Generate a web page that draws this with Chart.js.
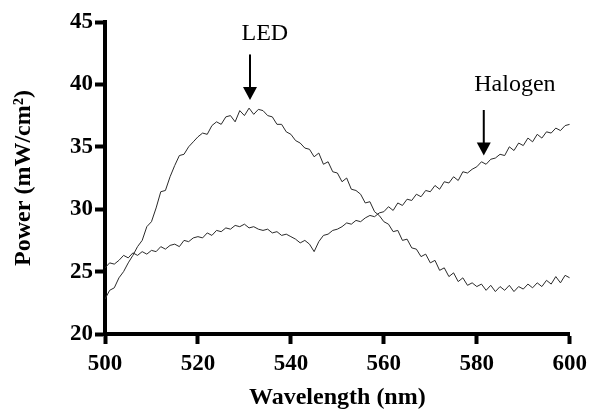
<!DOCTYPE html>
<html>
<head>
<meta charset="utf-8">
<script src="https://cdn.jsdelivr.net/npm/chart.js@4.4.1/dist/chart.umd.min.js"></script>
<style>
  html, body { margin: 0; padding: 0; background: #fff; }
  #wrap { width: 593px; height: 412px; }
</style>
</head>
<body>
<div id="wrap"><canvas id="spectrum"></canvas></div>
<script>
// ── Data ──────────────────────────────────────────────────────────────────
const wavelength = [
  500, 501, 502, 503, 504, 505, 506, 507, 508, 509,
  510, 511, 512, 513, 514, 515, 516, 517, 518, 519,
  520, 521, 522, 523, 524, 525, 526, 527, 528, 529,
  530, 531, 532, 533, 534, 535, 536, 537, 538, 539,
  540, 541, 542, 543, 544, 545, 546, 547, 548, 549,
  550, 551, 552, 553, 554, 555, 556, 557, 558, 559,
  560, 561, 562, 563, 564, 565, 566, 567, 568, 569,
  570, 571, 572, 573, 574, 575, 576, 577, 578, 579,
  580, 581, 582, 583, 584, 585, 586, 587, 588, 589,
  590, 591, 592, 593, 594, 595, 596, 597, 598, 599,
  600
];

const ledPower = [
  22.8, 23.5, 23.7, 24.5, 25.0, 25.7, 26.3, 27.0, 27.5, 28.6,
  29.0, 30.1, 31.4, 31.5, 32.6, 33.5, 34.3, 34.4, 35.0, 35.4,
  35.8, 36.1, 36.0, 36.7, 37.0, 36.8, 37.4, 37.5, 37.0, 37.9,
  37.5, 38.1, 37.6, 38.0, 37.9, 37.5, 37.4, 36.8, 36.8, 36.2,
  36.0, 35.5, 35.3, 34.9, 34.8, 34.2, 34.5, 33.6, 33.8, 33.0,
  32.9, 32.2, 32.5, 31.6, 31.5, 31.2, 30.5, 30.6, 29.8, 29.5,
  29.0, 28.8, 28.2, 28.3, 27.5, 27.6, 26.9, 26.8, 26.2, 26.4,
  25.7, 25.9, 25.1, 25.3, 24.6, 24.9, 24.2, 24.5, 23.9, 24.1,
  23.8, 24.0, 23.5, 23.9, 23.4, 23.8, 23.5, 23.9, 23.4, 23.8,
  23.6, 24.0, 23.7, 24.1, 23.8, 24.3, 24.0, 24.6, 24.1, 24.7,
  24.5
];

const halogenPower = [
  25.3, 25.7, 25.6, 25.9, 26.3, 26.1, 26.5, 26.3, 26.6, 26.4,
  26.7, 26.6, 27.0, 26.8, 27.1, 27.2, 27.0, 27.5, 27.4, 27.7,
  27.8, 27.7, 28.1, 27.9, 28.3, 28.2, 28.5, 28.4, 28.7, 28.6,
  28.8, 28.5, 28.6, 28.4, 28.3, 28.4, 28.1, 28.2, 27.9, 28.0,
  27.8, 27.6, 27.3, 27.5, 27.2, 26.6, 27.4, 27.9, 28.0, 28.3,
  28.4, 28.6, 28.9, 28.8, 29.1, 29.0, 29.3, 29.5, 29.4, 29.7,
  29.8, 30.2, 29.9, 30.5, 30.3, 30.8, 30.7, 31.2, 31.0, 31.5,
  31.4, 31.9, 31.6, 32.2, 32.1, 32.6, 32.3, 33.0, 32.9, 33.2,
  33.4, 33.8, 33.6, 34.0, 34.1, 34.4, 34.3, 35.0, 34.7, 35.3,
  35.1, 35.7, 35.4, 36.0, 35.7, 36.2, 36.1, 36.5, 36.3, 36.7,
  36.8
];

const xTicks = [500, 520, 540, 560, 580, 600];
const yTicks = [20, 25, 30, 35, 40, 45];

// ── Arrow labels ─────────────────────────────────────────────────────────
const arrowLabels = {
  id: 'arrowLabels',
  afterDatasetsDraw(chart) {
    const { ctx, scales: { x, y } } = chart;
    const notes = [
      { text: 'LED',     tx: 534.4, ty: 44.1, ax: 531.2, from: 42.4,  to: 38.75 },
      { text: 'Halogen', tx: 588.2, ty: 40.0, ax: 581.5, from: 37.95, to: 34.3 },
    ];
    ctx.save();
    ctx.fillStyle = '#000';
    ctx.strokeStyle = '#000';
    ctx.font = '24px "Liberation Serif", serif';
    ctx.textAlign = 'center';
    ctx.textBaseline = 'middle';
    notes.forEach(n => {
      ctx.fillText(n.text, x.getPixelForValue(n.tx), y.getPixelForValue(n.ty));
      const px = x.getPixelForValue(n.ax);
      const top = y.getPixelForValue(n.from);
      const tip = y.getPixelForValue(n.to);
      ctx.lineWidth = 2;
      ctx.beginPath();
      ctx.moveTo(px, top);
      ctx.lineTo(px, tip - 10);
      ctx.stroke();
      ctx.beginPath();
      ctx.moveTo(px - 7, tip - 13);
      ctx.lineTo(px + 7, tip - 13);
      ctx.lineTo(px, tip);
      ctx.closePath();
      ctx.fill();
    });
    ctx.restore();
  },
};

const TICK_FONT  = { family: '"Liberation Serif", "Times New Roman", serif', weight: 'bold', size: 23 };
const TITLE_FONT = { family: '"Liberation Serif", "Times New Roman", serif', weight: 'bold', size: 24 };

new Chart(document.getElementById('spectrum'), {
  type: 'line',
  data: {
    datasets: [
      {
        label: 'LED',
        data: wavelength.map((w, i) => ({ x: w, y: ledPower[i] })),
        borderColor: '#2a2a2a',
        borderWidth: 1,
        pointRadius: 0,
        tension: 0,
      },
      {
        label: 'Halogen',
        data: wavelength.map((w, i) => ({ x: w, y: halogenPower[i] })),
        borderColor: '#2a2a2a',
        borderWidth: 1,
        pointRadius: 0,
        tension: 0,
      },
    ],
  },
  options: {
    responsive: true,
    maintainAspectRatio: false,
    animation: false,
    layout: { padding: { top: 22, right: 23, left: 0, bottom: 0 } },
    plugins: { legend: { display: false }, tooltip: { enabled: false } },
    scales: {
      x: {
        type: 'linear',
        min: 500,
        max: 600,
        afterBuildTicks: s => { s.ticks = xTicks.map(v => ({ value: v })); },
        afterFit: s => { s.height = 78; },
        border: { display: true, width: 4, color: '#000' },
        grid: { drawOnChartArea: false, drawTicks: true, tickLength: 10, tickWidth: 4, tickColor: '#000' },
        ticks: { color: '#000', font: TICK_FONT, padding: 6, maxRotation: 0 },
        title: { display: true, text: 'Wavelength (nm)', color: '#000', font: TITLE_FONT, padding: { top: 0, bottom: 0 } },
      },
      y: {
        min: 20,
        max: 45,
        afterBuildTicks: s => { s.ticks = yTicks.map(v => ({ value: v })); },
        afterFit: s => { s.width = 105; },
        border: { display: true, width: 4, color: '#000' },
        grid: { drawOnChartArea: false, drawTicks: true, tickLength: 10, tickWidth: 4, tickColor: '#000' },
        ticks: { color: '#000', font: TICK_FONT, padding: 2 },
        title: { display: true, text: 'Power (mW/cm²)', color: '#000', font: TITLE_FONT, padding: { top: 9, bottom: 0 } },
      },
    },
  },
  plugins: [arrowLabels],
});
</script>
</body>
</html>
